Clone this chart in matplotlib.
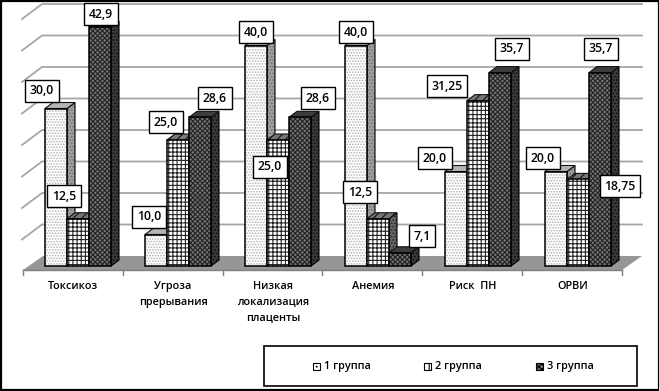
import matplotlib
matplotlib.use('Agg')
import matplotlib.pyplot as plt
import numpy as np
from matplotlib.patches import Polygon, Rectangle

plt.rcParams['font.family'] = ['Open Sans', 'DejaVu Sans']
plt.rcParams['hatch.linewidth'] = 0.8

categories = ['Токсикоз', 'Угроза\nпрерывания', 'Низкая\nлокализация\nплаценты', 'Анемия', 'Риск  ПН', 'ОРВИ']
group1 = [30.0, 10.0, 40.0, 40.0, 20.0, 20.0]
group2 = [12.5, 25.0, 25.0, 12.5, 31.25, 18.75]
group3 = [42.9, 28.6, 28.6, 7.1, 35.7, 35.7]
group_names = ['1 группа', '2 группа', '3 группа']
y_ticks = [5, 10, 15, 20, 25, 30, 35, 40, 45]

W, H = 659, 391
# pixel scale of the plot: 100 px per category, 6.3 px per value unit, 5 at y=266
PX = 100.0
PY = 6.3
def xpx(p): return (p - 78) / PX
def ypx(p): return 5 + (266 - p) / PY

# label box centres in pixels, one row per group
label_pos1 = [(42, 91), (149, 217), (256, 32), (356, 32), (435, 158), (543, 158)]
label_pos2 = [(64, 196), (166, 122), (270, 167), (360, 192), (447, 86), (620, 186)]
label_pos3 = [(101, 14), (215, 98), (318, 98), (422, 236), (512, 49), (601, 49)]

fig = plt.figure(figsize=(W / 100, H / 100), dpi=100)
ax = fig.add_axes([0, 0, 1, 1])
ax.set_xlim(xpx(0), xpx(W))
ax.set_ylim(ypx(H), ypx(0))
ax.axis('off')

grid_c = '#a6a6a6'
# floor
ax.add_patch(Polygon([(xpx(23), ypx(270)), (xpx(43), ypx(256)), (xpx(642), ypx(256)), (xpx(622), ypx(270))],
                     closed=True, fc='#969696', ec='none', zorder=1))
# walls
wall_x = [xpx(22), xpx(42), xpx(642)]
for t in y_ticks[1:]:
    back = t + 10 / PY
    ax.plot(wall_x, [back - 15 / PY, back, back], color=grid_c, lw=1.3, zorder=0.5)
# category ticks
for i in range(len(categories) + 1):
    xt = xpx(23 + i * 99.8)
    ax.plot([xt, xt], [ypx(270), ypx(275)], color='#808080', lw=1, zorder=1)
ax.plot([xpx(23), xpx(622)], [ypx(270), ypx(270)], color='#808080', lw=1, zorder=1)

styles = [
    dict(face='white', hatch_c='#b4b4b4', hatch='......', top='#b4b4b4', side='#a0a0a0', side_h='#707070', top_h=''),
    dict(face='white', hatch_c='#222222', hatch='++++', top='#777777', side='#666666', side_h='#222222', top_h='////'),
    dict(face='#747474', hatch_c='#242424', hatch='xxxxxxx', top='#3c3c3c', side='#3a3a3a', side_h='#111111', top_h=''),
]
bar_w = 22 / PX
dx, dy = 8 / PX, 6 / PY

def draw_bar(x, v, st, z):
    left = x - bar_w / 2
    right = x + bar_w / 2
    side = [(right, 5), (right + dx, 5 + dy), (right + dx, v + dy), (right, v)]
    top = [(left, v), (left + dx, v + dy), (right + dx, v + dy), (right, v)]
    ax.add_patch(Polygon(side, closed=True, fc=st['side'], ec=st['side_h'], hatch='.....', lw=0, zorder=z))
    ax.add_patch(Polygon(side, closed=True, fill=False, ec='black', lw=0.8, zorder=z))
    ax.add_patch(Polygon(top, closed=True, fc=st['top'], ec='#111111', hatch=st['top_h'], lw=0.8, zorder=z))

groups = [group1, group2, group3]
xs = np.arange(len(categories))
for g, vals in enumerate(groups):
    st = styles[g]
    z = 2 + g
    xg = xs + (g - 1) * bar_w
    for x, v in zip(xg, vals):
        draw_bar(x, v, st, z)
    heights = np.array(vals) - 5
    ax.bar(xg, heights, bar_w, bottom=5, color=st['face'], edgecolor=st['hatch_c'],
           hatch=st['hatch'], linewidth=0, zorder=z + 0.1)
    ax.bar(xg, heights, bar_w, bottom=5, fill=False, edgecolor='black', linewidth=1.1, zorder=z + 0.2)

# value labels
def fmt(v):
    s = '%.2f' % v if round(v * 10) != v * 10 else '%.1f' % v
    return s.replace('.', ',')

for vals, pos in zip(groups, [label_pos1, label_pos2, label_pos3]):
    for v, (px, py) in zip(vals, pos):
        ax.text(xpx(px), ypx(py), fmt(v), ha='center', va='center', fontsize=8.8, fontweight='semibold',
                color='black', zorder=10,
                bbox=dict(boxstyle='square,pad=0.38', fc='white', ec='black', lw=1))

# category labels
for i, c in enumerate(categories):
    ax.text(i - 0.05, ypx(281), c, ha='center', va='top', fontsize=7.8, fontweight='semibold',
            linespacing=1.6, color='black')

# legend
handles = [Rectangle((0, 0), 1, 1, fc=styles[i]['face'], ec='black', hatch=['....', '++', 'xxxxxx'][i], lw=0.8)
           for i in range(3)]
ax.add_patch(Rectangle((xpx(264), ypx(386)), 373 / PX, 40 / PY, fc='white', ec='black', lw=1.2, zorder=8))
for h, name, p in zip(handles, group_names, [313, 424, 536]):
    h.set_bounds(xpx(p), ypx(370), 7 / PX, 7 / PY)
    h.set_zorder(9)
    ax.add_patch(h)
    ax.text(xpx(p + 11), ypx(366.5), name, ha='left', va='center', fontsize=7.8, fontweight='semibold', zorder=9)

# picture border
ax.add_patch(Rectangle((xpx(0.5), ypx(390)), 658 / PX, 389.5 / PY, fill=False, ec='black', lw=1.6, zorder=11))

fig.savefig('out.png', dpi=100)
